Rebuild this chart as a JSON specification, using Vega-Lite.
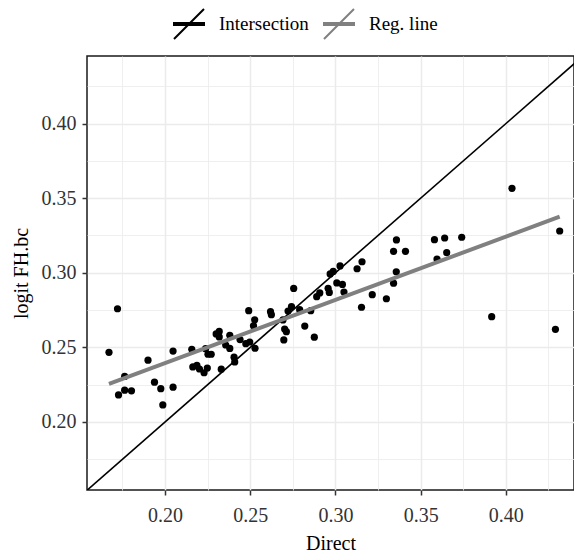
{
  "$schema": "https://vega.github.io/schema/vega-lite/v6.json",
  "width": 487,
  "height": 434,
  "autosize": {"type": "none"},
  "padding": {"left": 87, "top": 56, "right": 0, "bottom": 63},
  "background": "white",
  "config": {
    "font": "Liberation Serif",
    "view": {"stroke": "#1a1a1a", "strokeWidth": 1.5},
    "axis": {
      "domain": false,
      "labelFont": "Liberation Serif",
      "labelFontSize": 20,
      "labelColor": "#333333",
      "titleFont": "Liberation Serif",
      "titleFontSize": 20,
      "titleFontWeight": "normal",
      "titleColor": "#000000",
      "tickColor": "#333333",
      "tickWidth": 1.5,
      "tickSize": 5,
      "gridColor": "#EBEBEB",
      "gridWidth": {"condition": {"test": "abs(round(datum.value*40)%2)==1", "value": 0.8}, "value": 1.5},
      "tickOpacity": {"condition": {"test": "abs(round(datum.value*40)%2)==1", "value": 0}, "value": 1},
      "labelExpr": "abs(round(datum.value*40)%2)==1 ? '' : format(datum.value, '.2f')"
    },
    "legend": {
      "labelFont": "Liberation Serif",
      "labelFontSize": 19,
      "labelColor": "#000000"
    }
  },
  "datasets": {
    "pts": [
      {"x": 0.1671, "y": 0.2467}, {"x": 0.1721, "y": 0.2759}, {"x": 0.1727, "y": 0.2181},
      {"x": 0.1763, "y": 0.2305}, {"x": 0.1763, "y": 0.2213}, {"x": 0.1803, "y": 0.2209},
      {"x": 0.1900, "y": 0.2414}, {"x": 0.1938, "y": 0.2267}, {"x": 0.1975, "y": 0.2223},
      {"x": 0.1987, "y": 0.2114}, {"x": 0.2047, "y": 0.2475}, {"x": 0.2047, "y": 0.2233},
      {"x": 0.2157, "y": 0.2487}, {"x": 0.2163, "y": 0.2369}, {"x": 0.2187, "y": 0.2379},
      {"x": 0.2202, "y": 0.2355}, {"x": 0.2229, "y": 0.2330}, {"x": 0.2248, "y": 0.2361},
      {"x": 0.2238, "y": 0.2491}, {"x": 0.2252, "y": 0.2454}, {"x": 0.2271, "y": 0.2454},
      {"x": 0.2300, "y": 0.2590}, {"x": 0.2318, "y": 0.2607}, {"x": 0.2318, "y": 0.2570},
      {"x": 0.2330, "y": 0.2354}, {"x": 0.2356, "y": 0.2516}, {"x": 0.2380, "y": 0.2581},
      {"x": 0.2380, "y": 0.2493}, {"x": 0.2405, "y": 0.2434}, {"x": 0.2409, "y": 0.2402},
      {"x": 0.2440, "y": 0.2552}, {"x": 0.2491, "y": 0.2746}, {"x": 0.2526, "y": 0.2685},
      {"x": 0.2519, "y": 0.2645}, {"x": 0.2497, "y": 0.2536}, {"x": 0.2474, "y": 0.2525},
      {"x": 0.2528, "y": 0.2494}, {"x": 0.2619, "y": 0.2739}, {"x": 0.2624, "y": 0.2719},
      {"x": 0.2692, "y": 0.2684}, {"x": 0.2702, "y": 0.2623}, {"x": 0.2712, "y": 0.2605},
      {"x": 0.2697, "y": 0.2550}, {"x": 0.2722, "y": 0.2743}, {"x": 0.2742, "y": 0.2773},
      {"x": 0.2755, "y": 0.2895}, {"x": 0.2790, "y": 0.2753}, {"x": 0.2820, "y": 0.2643},
      {"x": 0.2855, "y": 0.2746}, {"x": 0.2876, "y": 0.2568}, {"x": 0.2890, "y": 0.2840},
      {"x": 0.2908, "y": 0.2865}, {"x": 0.2957, "y": 0.2896}, {"x": 0.2964, "y": 0.2868},
      {"x": 0.2969, "y": 0.2992}, {"x": 0.2987, "y": 0.3009}, {"x": 0.3027, "y": 0.3046},
      {"x": 0.3008, "y": 0.2932}, {"x": 0.3041, "y": 0.2922}, {"x": 0.3050, "y": 0.2871},
      {"x": 0.3127, "y": 0.3027}, {"x": 0.3156, "y": 0.3074}, {"x": 0.3153, "y": 0.2769},
      {"x": 0.3216, "y": 0.2853}, {"x": 0.3299, "y": 0.2826}, {"x": 0.3341, "y": 0.2930},
      {"x": 0.3357, "y": 0.3007}, {"x": 0.3341, "y": 0.3144}, {"x": 0.3358, "y": 0.3220},
      {"x": 0.3411, "y": 0.3144}, {"x": 0.3581, "y": 0.3222}, {"x": 0.3641, "y": 0.3233},
      {"x": 0.3596, "y": 0.3092}, {"x": 0.3653, "y": 0.3135}, {"x": 0.3741, "y": 0.3238},
      {"x": 0.3917, "y": 0.2706}, {"x": 0.4036, "y": 0.3566}, {"x": 0.4291, "y": 0.2621},
      {"x": 0.4316, "y": 0.3280}
    ],
    "lines": [
      {"series": "Intersection", "x": 0.15, "y": 0.15},
      {"series": "Intersection", "x": 0.45, "y": 0.45},
      {"series": "Reg. line", "x": 0.1671, "y": 0.2255},
      {"series": "Reg. line", "x": 0.4316, "y": 0.3376}
    ]
  },
  "encoding": {
    "x": {
      "field": "x", "type": "quantitative",
      "scale": {"domain": [0.1542, 0.44], "nice": false, "zero": false},
      "axis": {"title": "Direct", "values": [0.175, 0.2, 0.225, 0.25, 0.275, 0.3, 0.325, 0.35, 0.375, 0.4, 0.425], "labelPadding": 10, "titlePadding": 8}
    },
    "y": {
      "field": "y", "type": "quantitative",
      "scale": {"domain": [0.1544, 0.4453], "nice": false, "zero": false},
      "axis": {"title": "logit FH.bc", "values": [0.175, 0.2, 0.225, 0.25, 0.275, 0.3, 0.325, 0.35, 0.375, 0.4, 0.425], "labelPadding": 6, "titlePadding": 10}
    }
  },
  "layer": [
    {
      "data": {"name": "pts"},
      "mark": {"type": "circle", "size": 52, "color": "#000000", "opacity": 1}
    },
    {
      "data": {"name": "lines"},
      "transform": [{"filter": "datum.series == 'Intersection'"}],
      "mark": {"type": "line", "clip": true, "strokeWidth": 1.6},
      "encoding": {
        "color": {
          "field": "series", "type": "nominal",
          "scale": {"domain": ["Intersection", "Reg. line"], "range": ["#000000", "#808080"]},
          "legend": {
            "title": null, "orient": "none", "direction": "horizontal",
            "legendX": 86, "legendY": -48,
            "symbolType": "M-1,1L1,-1M-1,-0.07L1,-0.07L1,0.07L-1,0.07Z",
            "symbolSize": 900, "symbolStrokeWidth": 2,
            "labelOffset": 14, "columnPadding": 11
          }
        }
      }
    },
    {
      "data": {"name": "lines"},
      "transform": [{"filter": "datum.series == 'Reg. line'"}],
      "mark": {"type": "line", "clip": true, "strokeWidth": 4},
      "encoding": {
        "color": {"field": "series", "type": "nominal"}
      }
    }
  ]
}
